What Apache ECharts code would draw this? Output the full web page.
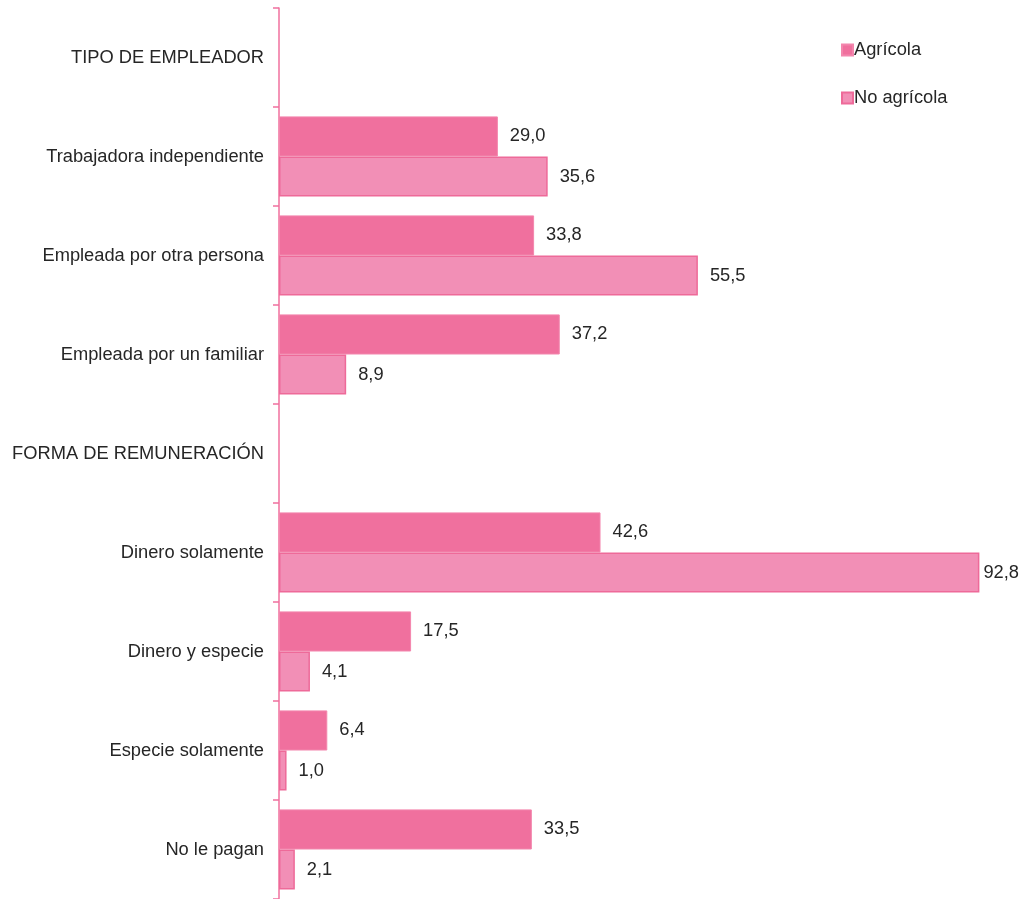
<!DOCTYPE html>
<html>
<head>
<meta charset="utf-8">
<script src="https://cdn.jsdelivr.net/npm/echarts@6/dist/echarts.min.js"></script>
<style>
html,body{margin:0;padding:0;background:#fff;}
#chart{width:1020px;height:899px;}
</style>
</head>
<body>
<div id="chart"></div>
<script>
const categories = [
  'TIPO DE EMPLEADOR',
  'Trabajadora independiente',
  'Empleada por otra persona',
  'Empleada por un familiar',
  'FORMA DE REMUNERACIÓN',
  'Dinero solamente',
  'Dinero y especie',
  'Especie solamente',
  'No le pagan'
];
const agricola = [null, 29.0, 33.8, 37.2, null, 42.6, 17.5, 6.4, 33.5];
const noAgricola = [null, 35.6, 55.5, 8.9, null, 92.8, 4.1, 1.0, 2.1];
const seriesNames = ['Agrícola', 'No agrícola'];

const FONT = "'Liberation Sans', Arial, sans-serif";
const FS = 18.3;
const TXT = '#262626';
const X_MAX = 95;

const chart = echarts.init(document.getElementById('chart'), null, {renderer: 'canvas'});
const labelCfg = {
  show: true,
  position: 'right',
  distance: 12,
  color: TXT,
  fontFamily: FONT,
  fontSize: FS,
  formatter: p => p.value == null ? '' : p.value.toFixed(1).replace('.', ',')
};
// bars running close to the right edge get their label pulled in so it stays visible
const toData = arr => arr.map(v => (v != null && v > X_MAX - 5)
  ? {value: v, label: {distance: 4}}
  : v);

chart.setOption({
  animation: false,
  backgroundColor: '#fff',
  textStyle: {fontFamily: FONT},
  grid: {left: 279, right: 24, top: 8, bottom: 0, containLabel: false, outerBoundsMode: 'none'},
  legend: {
    orient: 'vertical',
    left: 836,
    top: 36,
    itemWidth: 11,
    itemHeight: 11,
    itemGap: 30,
    icon: 'rect',
    textStyle: {color: TXT, fontSize: FS, fontFamily: FONT, padding: [0, 0, 0, -4]},
    data: seriesNames
  },
  xAxis: {
    type: 'value',
    min: 0,
    max: X_MAX,
    show: false
  },
  yAxis: {
    type: 'category',
    inverse: true,
    data: categories,
    axisLine: {show: true, lineStyle: {color: '#F0709E', width: 1.5}},
    axisTick: {show: true, length: 6, inside: false, lineStyle: {color: '#F0709E', width: 1.5}},
    axisLabel: {color: TXT, fontSize: FS, fontFamily: FONT, margin: 15}
  },
  series: [
    {
      name: seriesNames[0],
      type: 'bar',
      data: toData(agricola),
      barGap: '0%',
      barCategoryGap: '19%',
      itemStyle: {color: '#F0709E', borderColor: '#F386AD', borderWidth: 1},
      label: labelCfg
    },
    {
      name: seriesNames[1],
      type: 'bar',
      data: toData(noAgricola),
      barGap: '0%',
      barCategoryGap: '19%',
      itemStyle: {color: '#F28FB6', borderColor: '#EE6A99', borderWidth: 1.5},
      label: labelCfg
    }
  ]
});
</script>
</body>
</html>
